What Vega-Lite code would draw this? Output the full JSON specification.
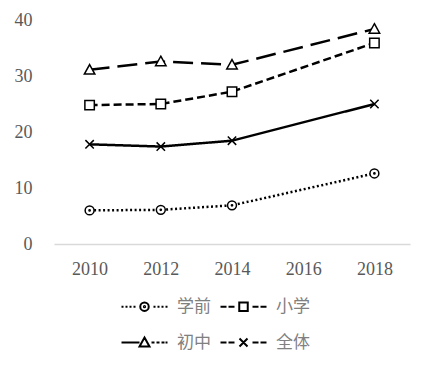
{
  "$schema": "https://vega.github.io/schema/vega-lite/v6.json",
  "width": 356,
  "height": 224,
  "autosize": {"type": "none"},
  "padding": {"left": 54, "top": 20, "right": 21, "bottom": 122},
  "background": "white",
  "config": {"view": {"stroke": null}},
  "data": {
    "values": [
      {"series": "学前", "year": 2010, "value": 6.0},
      {"series": "学前", "year": 2012, "value": 6.1},
      {"series": "学前", "year": 2014, "value": 6.9},
      {"series": "学前", "year": 2018, "value": 12.6},
      {"series": "小学", "year": 2010, "value": 24.8},
      {"series": "小学", "year": 2012, "value": 25.0},
      {"series": "小学", "year": 2014, "value": 27.2},
      {"series": "小学", "year": 2018, "value": 35.9},
      {"series": "初中", "year": 2010, "value": 31.1},
      {"series": "初中", "year": 2012, "value": 32.6},
      {"series": "初中", "year": 2014, "value": 32.0},
      {"series": "初中", "year": 2018, "value": 38.4},
      {"series": "全体", "year": 2010, "value": 17.8},
      {"series": "全体", "year": 2012, "value": 17.4},
      {"series": "全体", "year": 2014, "value": 18.45},
      {"series": "全体", "year": 2018, "value": 25.0}
    ]
  },
  "encoding": {
    "x": {
      "field": "year",
      "type": "quantitative",
      "scale": {"domain": [2009, 2019], "nice": false, "zero": false},
      "axis": {
        "values": [2010, 2012, 2014, 2016, 2018],
        "format": "d",
        "title": null,
        "grid": false,
        "ticks": false,
        "domainColor": "#d9d9d9",
        "domainWidth": 1.5,
        "labelFont": "Liberation Serif",
        "labelFontSize": 18,
        "labelColor": "#595959",
        "labelPadding": 16
      }
    },
    "y": {
      "field": "value",
      "type": "quantitative",
      "scale": {"domain": [0, 40], "nice": false},
      "axis": {
        "values": [0, 10, 20, 30, 40],
        "title": null,
        "grid": false,
        "ticks": false,
        "domain": false,
        "labelFont": "Liberation Serif",
        "labelFontSize": 18,
        "labelColor": "#595959",
        "labelPadding": 22
      }
    }
  },
  "resolve": {"scale": {"shape": "independent"}, "legend": {"shape": "independent"}},
  "layer": [
    {
      "mark": {"type": "line", "strokeWidth": 2.5, "color": "black"},
      "encoding": {
        "strokeDash": {
          "field": "series",
          "type": "nominal",
          "scale": {
            "domain": ["学前", "小学", "初中", "全体"],
            "range": [[2, 2.5], [8, 4], [20, 8], [1, 0]]
          },
          "legend": null
        }
      }
    },
    {
      "mark": {"type": "point", "filled": true, "fill": "white", "stroke": "black", "strokeWidth": 1.5, "size": 110, "opacity": 1},
      "encoding": {
        "shape": {
          "field": "series",
          "type": "nominal",
          "scale": {
            "domain": ["学前", "小学", "初中", "全体"],
            "range": [
              "M-0.85,0A0.85,0.85,0,1,0,0.85,0A0.85,0.85,0,1,0,-0.85,0ZM-0.12,0A0.12,0.12,0,1,0,0.12,0A0.12,0.12,0,1,0,-0.12,0Z",
              "M-0.9,-0.9H0.9V0.9H-0.9Z",
              "M0,-1L1,0.8H-1Z",
              "M-0.8,-0.8L0.8,0.8M-0.8,0.8L0.8,-0.8"
            ]
          },
          "legend": null
        }
      }
    },
    {
      "transform": [{"filter": "datum.year < 0"}],
      "mark": {"type": "point", "filled": false, "color": "black", "strokeWidth": 2, "opacity": 1},
      "encoding": {
        "shape": {
          "field": "series",
          "type": "nominal",
          "scale": {
            "domain": ["学前", "小学", "初中", "全体"],
            "range": [
              "M-4.6,0L-4.2,0M-3.8,0L-3.4,0M-3,0L-2.6,0M-2.2,0L-1.8,0M1.8,0L2.2,0M2.6,0L3,0M3.4,0L3.8,0M4.2,0L4.6,0M-0.85,0A0.85,0.85,0,1,0,0.85,0A0.85,0.85,0,1,0,-0.85,0ZM-0.12,0A0.12,0.12,0,1,0,0.12,0A0.12,0.12,0,1,0,-0.12,0Z",
              "M-4.6,0L-3.4,0M-3,0L-1.8,0M1.8,0L3,0M3.4,0L4.6,0M-0.85,-0.85H0.85V0.85H-0.85Z",
              "M-4.6,0L-1,0M1.4,0L2,0M2.4,0L3,0M3.4,0L4,0M4.2,0L4.6,0M0,-1L1,0.8H-1Z",
              "M-4.6,0L-3.4,0M-3,0L-1.8,0M1.8,0L3,0M3.4,0L4.6,0M-0.8,-0.8L0.8,0.8M-0.8,0.8L0.8,-0.8"
            ]
          },
          "legend": {
            "title": null,
            "orient": "none",
            "direction": "horizontal",
            "legendX": 82,
            "legendY": 278,
            "columns": 2,
            "symbolSize": 100,
            "symbolOpacity": 1,
            "symbolStrokeColor": "black",
            "symbolStrokeWidth": 2,
            "labelFont": "Noto Sans CJK SC",
            "labelFontSize": 17,
            "labelColor": "#808080",
            "labelOffset": 24,
            "rowPadding": 18,
            "columnPadding": 5
          }
        }
      }
    }
  ]
}
